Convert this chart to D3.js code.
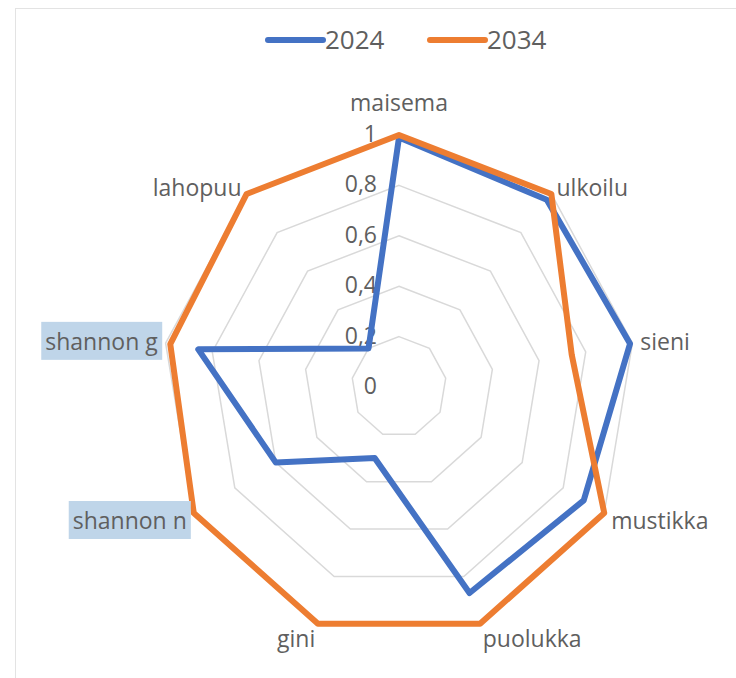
<!DOCTYPE html>
<html>
<head>
<meta charset="utf-8">
<script src="https://cdn.jsdelivr.net/npm/d3@7"></script>
<style>
  html, body { margin: 0; padding: 0; background: #ffffff; }
  svg { display: block; }
  text { font-family: "Open Sans", "Liberation Sans", sans-serif; fill: #5f5f5f; }
</style>
</head>
<body>
<svg id="chart" width="736" height="678"></svg>
<script>
const categories = ["maisema", "ulkoilu", "sieni", "mustikka", "puolukka", "gini", "shannon n", "shannon g", "lahopuu"];
const seriesNames = ["2024", "2034"];
const values2024 = [0.99, 0.97, 0.99, 0.90, 0.87, 0.30, 0.60, 0.86, 0.20];
const values2034 = [1.00, 1.00, 0.74, 1.00, 1.00, 1.00, 1.00, 0.98, 1.00];
const tickValues = [0, 0.2, 0.4, 0.6, 0.8, 1];
const tickLabels = ["0", "0,2", "0,4", "0,6", "0,8", "1"];
const highlightedCategories = ["shannon g", "shannon n"];
const seriesColors = ["#4472C4", "#ED7D31"];

const svg = d3.select("#chart");
const cx = 399, cy = 387;

// Frame
svg.append("rect")
  .attr("x", 15.5).attr("y", 8.5)
  .attr("width", 760).attr("height", 720)
  .attr("fill", "#ffffff")
  .attr("stroke", "#e3e3e3").attr("stroke-width", 1);

const angle = d3.scaleLinear().domain([0, categories.length]).range([0, 2 * Math.PI]);
const rx = d3.scaleLinear().domain([0, 1]).range([0, 237]);
const ry = d3.scaleLinear().domain([0, 1]).range([0, 252]);

const px = (i, v) => cx + rx(v) * Math.sin(angle(i));
const py = (i, v) => cy - ry(v) * Math.cos(angle(i));

const g = svg.append("g");

// Grid rings
tickValues.filter(t => t > 0).forEach(t => {
  const pts = categories.map((c, i) => [px(i, t), py(i, t)]);
  g.append("path")
    .attr("d", d3.line().curve(d3.curveLinearClosed)(pts))
    .attr("fill", "none")
    .attr("stroke", "#d9d9d9")
    .attr("stroke-width", 1.5);
});

// Tick labels
g.selectAll("text.tick")
  .data(tickValues)
  .enter().append("text")
  .attr("class", "tick")
  .attr("x", cx - 22)
  .attr("y", d => cy - ry(d))
  .attr("dy", "0.3em")
  .attr("text-anchor", "end")
  .style("font-size", "23px")
  .text((d, i) => tickLabels[i]);

// Series
const allSeries = [values2024, values2034];
allSeries.forEach((vals, s) => {
  const pts = vals.map((v, i) => [px(i, v), py(i, v)]);
  g.append("path")
    .attr("d", d3.line().curve(d3.curveLinearClosed)(pts))
    .attr("fill", "none")
    .attr("stroke", seriesColors[s])
    .attr("stroke-width", 6)
    .attr("stroke-linejoin", "round");
});

// Category labels
const labelGroup = g.append("g");
categories.forEach((c, i) => {
  const a = angle(i);
  const s = Math.sin(a), co = Math.cos(a);
  const x = cx + (rx(1) + 8) * s;
  const y = cy - (ry(1) + 8) * co;
  const anchor = s > 0.05 ? "start" : (s < -0.05 ? "end" : "middle");
  const base = y + 8 + (co > 0.9 ? -24 : (co < -0.9 ? 8 : (co < -0.3 ? 4 : 0)));
  const lg = labelGroup.append("g");
  const t = lg.append("text")
    .attr("x", x)
    .attr("y", base)
    .attr("text-anchor", anchor)
    .style("font-size", "23px")
    .text(c);
  if (highlightedCategories.includes(c)) {
    const bb = t.node().getBBox();
    lg.insert("rect", "text")
      .attr("x", bb.x - 4)
      .attr("y", bb.y - 3)
      .attr("width", bb.width + 8)
      .attr("height", bb.height + 6)
      .attr("fill", "#bfd5e9");
  }
});

// Legend
const legend = svg.append("g");
const legendItems = [{x: 268}, {x: 430}];
seriesNames.forEach((name, s) => {
  const lx = legendItems[s].x;
  legend.append("line")
    .attr("x1", lx).attr("x2", lx + 55)
    .attr("y1", 40).attr("y2", 40)
    .attr("stroke", seriesColors[s])
    .attr("stroke-width", 6)
    .attr("stroke-linecap", "round");
  legend.append("text")
    .attr("x", lx + 57)
    .attr("y", 49)
    .style("font-size", "26px")
    .text(name);
});
</script>
</body>
</html>
